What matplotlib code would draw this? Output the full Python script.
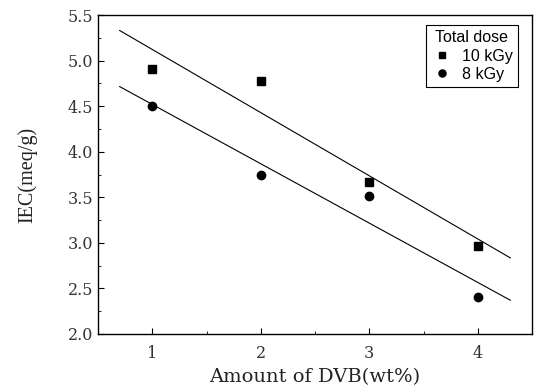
import numpy as np
import matplotlib
matplotlib.use("Agg")
import matplotlib.pyplot as plt
from matplotlib.ticker import MultipleLocator

# IEC versus DVB content for two total doses
dvb = [1, 2, 3, 4]
iec_10kgy = [4.91, 4.78, 3.67, 2.97]
iec_8kgy = [4.50, 3.75, 3.51, 2.41]
fit_range = [0.7, 4.3]

fig = plt.figure(figsize=(5.34, 3.87), dpi=100)
ax = fig.add_axes([98/534, 1 - 334/387, (532-98)/534, (334-15)/387])

ax.plot(dvb, iec_10kgy, 's', color='black', ms=5.5, label='10 kGy')
ax.plot(dvb, iec_8kgy, 'o', color='black', ms=6, label='8 kGy')

# least squares lines through each series
xs = np.array(fit_range)
for ys in (iec_10kgy, iec_8kgy):
    k, b = np.polyfit(dvb, ys, 1)
    ax.plot(xs, k*xs + b, color='black', lw=0.8)

ax.set_xlim(0.5, 4.5)
ax.set_ylim(2.0, 5.5)
ax.xaxis.set_major_locator(MultipleLocator(1))
ax.xaxis.set_minor_locator(MultipleLocator(0.5))
ax.yaxis.set_major_locator(MultipleLocator(0.5))
ax.yaxis.set_minor_locator(MultipleLocator(0.25))
ax.yaxis.set_major_formatter(matplotlib.ticker.FormatStrFormatter('%.1f'))
ax.tick_params(which='both', direction='in', top=False, right=False)
ax.tick_params(which='major', length=4, labelsize=11.5)
ax.tick_params(axis='x', which='major', pad=8)
ax.tick_params(which='minor', length=2.5)
for lab in ax.get_xticklabels() + ax.get_yticklabels():
    lab.set_family('DejaVu Serif')
    lab.set_color('#333333')
for sp in ax.spines.values():
    sp.set_linewidth(1.0)

ax.set_xlabel('Amount of DVB(wt%)', family='DejaVu Serif', fontsize=14,
              color='#222222', labelpad=4)
ax.set_ylabel('IEC(meq/g)', family='Liberation Serif', fontsize=14.5,
              color='#222222', labelpad=22)

leg = ax.legend(title='Total dose', loc='upper right', bbox_to_anchor=(0.968, 0.969),
                prop={'family': 'Liberation Sans', 'size': 11.5},
                title_fontproperties={'family': 'Liberation Sans', 'size': 11.5},
                fancybox=False, edgecolor='black', framealpha=1, markerscale=0.85,
                handletextpad=0.6, handlelength=1.3, borderpad=0.35, labelspacing=0.2,
                borderaxespad=0)
leg.get_frame().set_linewidth(0.8)

fig.savefig('out.png', dpi=100)
